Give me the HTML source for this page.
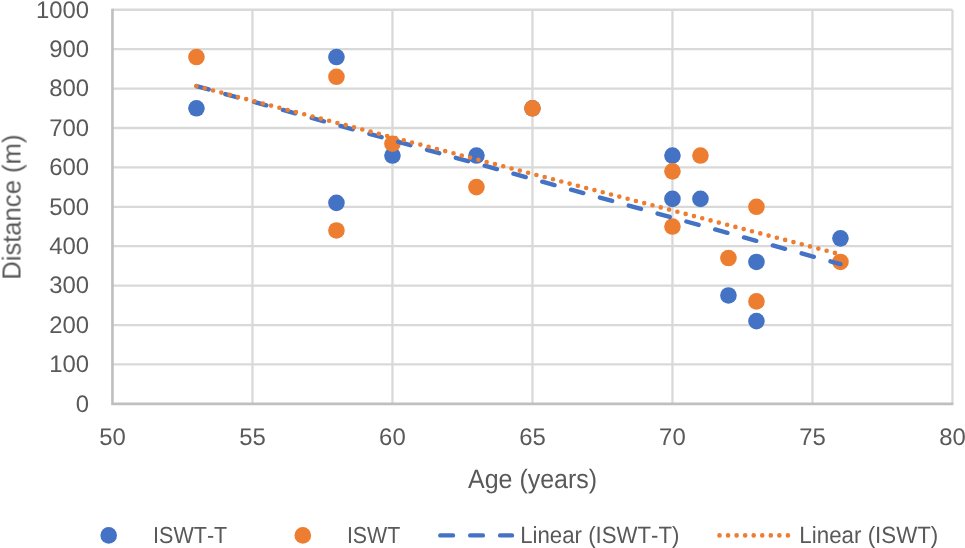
<!DOCTYPE html><html><head><meta charset="utf-8"><style>html,body{margin:0;padding:0;background:#fff;overflow:hidden}svg{display:block}text{font-family:"Liberation Sans",sans-serif;fill:#595959;font-kerning:none;text-rendering:geometricPrecision}</style></head><body>
<svg width="965" height="548" viewBox="0 0 965 548">
<rect width="965" height="548" fill="#fff"/>
<path d="M112.45 364.44H952.45M112.45 325.03H952.45M112.45 285.62H952.45M112.45 246.21H952.45M112.45 206.81H952.45M112.45 167.40H952.45M112.45 127.99H952.45M112.45 88.58H952.45M112.45 49.17H952.45M112.45 9.76H952.45M252.45 403.85V9.76M392.45 403.85V9.76M532.45 403.85V9.76M672.45 403.85V9.76M812.45 403.85V9.76M952.45 403.85V9.76" stroke="#d9d9d9" stroke-width="2.3" fill="none"/>
<path d="M112.45 8.76V403.85H953.45" stroke="#bfbfbf" stroke-width="2.6" fill="none"/>
<circle cx="196.45" cy="108.28" r="8.3" fill="#4472c4"/>
<circle cx="336.45" cy="57.05" r="8.3" fill="#4472c4"/>
<circle cx="336.45" cy="202.86" r="8.3" fill="#4472c4"/>
<circle cx="392.45" cy="155.57" r="8.3" fill="#4472c4"/>
<circle cx="476.45" cy="155.57" r="8.3" fill="#4472c4"/>
<circle cx="532.45" cy="108.28" r="8.3" fill="#4472c4"/>
<circle cx="672.45" cy="155.57" r="8.3" fill="#4472c4"/>
<circle cx="672.45" cy="198.92" r="8.3" fill="#4472c4"/>
<circle cx="700.45" cy="198.92" r="8.3" fill="#4472c4"/>
<circle cx="728.45" cy="295.48" r="8.3" fill="#4472c4"/>
<circle cx="756.45" cy="261.98" r="8.3" fill="#4472c4"/>
<circle cx="756.45" cy="321.09" r="8.3" fill="#4472c4"/>
<circle cx="840.45" cy="238.33" r="8.3" fill="#4472c4"/>
<circle cx="196.45" cy="57.05" r="8.3" fill="#ed7d31"/>
<circle cx="336.45" cy="76.76" r="8.3" fill="#ed7d31"/>
<circle cx="336.45" cy="230.45" r="8.3" fill="#ed7d31"/>
<circle cx="392.45" cy="143.75" r="8.3" fill="#ed7d31"/>
<circle cx="476.45" cy="187.10" r="8.3" fill="#ed7d31"/>
<circle cx="532.45" cy="108.28" r="8.3" fill="#ed7d31"/>
<circle cx="672.45" cy="171.34" r="8.3" fill="#ed7d31"/>
<circle cx="672.45" cy="226.51" r="8.3" fill="#ed7d31"/>
<circle cx="700.45" cy="155.57" r="8.3" fill="#ed7d31"/>
<circle cx="728.45" cy="258.04" r="8.3" fill="#ed7d31"/>
<circle cx="756.45" cy="206.81" r="8.3" fill="#ed7d31"/>
<circle cx="756.45" cy="301.39" r="8.3" fill="#ed7d31"/>
<circle cx="840.45" cy="261.98" r="8.3" fill="#ed7d31"/>
<path d="M196.45 86.05L840.45 264.10" stroke="#4472c4" stroke-width="4.4" stroke-linecap="round" stroke-dasharray="12.7 17.2" fill="none"/>
<path d="M196.45 86.10L840.45 254.37" stroke="#ed7d31" stroke-width="4.6" stroke-linecap="round" stroke-dasharray="0 8.57" fill="none"/>
<circle cx="108.7" cy="535.4" r="8.3" fill="#4472c4"/>
<circle cx="302.8" cy="535.4" r="8.3" fill="#ed7d31"/>
<path d="M440.3 535.4H512" stroke="#4472c4" stroke-width="4.4" stroke-linecap="round" stroke-dasharray="12.7 17.2" fill="none"/>
<path d="M719.5 535.4H790" stroke="#ed7d31" stroke-width="4.6" stroke-linecap="round" stroke-dasharray="0 8.55" fill="none"/>
<g opacity="0.999"><text x="75.842" y="411.677" font-size="23.9">0</text>
<text x="49.257" y="372.268" font-size="23.9">100</text>
<text x="49.257" y="332.859" font-size="23.9">200</text>
<text x="49.257" y="293.450" font-size="23.9">300</text>
<text x="49.257" y="254.041" font-size="23.9">400</text>
<text x="49.257" y="214.632" font-size="23.9">500</text>
<text x="49.257" y="175.223" font-size="23.9">600</text>
<text x="49.257" y="135.814" font-size="23.9">700</text>
<text x="49.257" y="96.405" font-size="23.9">800</text>
<text x="49.257" y="56.996" font-size="23.9">900</text>
<text x="35.965" y="17.587" font-size="23.9">1000</text>
<text x="99.246" y="445.077" font-size="23.9">50</text>
<text x="239.281" y="444.955" font-size="23.9">55</text>
<text x="379.118" y="445.077" font-size="23.9">60</text>
<text x="519.153" y="445.077" font-size="23.9">65</text>
<text x="659.112" y="445.077" font-size="23.9">70</text>
<text x="799.147" y="444.955" font-size="23.9">75</text>
<text x="939.205" y="445.077" font-size="23.9">80</text>
<text transform="translate(468.051 487.800) scale(0.9391 1)" font-size="26.599">Age (years)</text>
<text transform="translate(20.500 279.703) rotate(-90) scale(0.9853 1)" font-size="26.017">Distance (m)</text>
<text transform="translate(153.115 542.750) scale(0.9309 1)" font-size="23.110">ISWT-T</text>
<text transform="translate(346.930 542.750) scale(0.9237 1)" font-size="23.110">ISWT</text>
<text transform="translate(520.176 542.900) scale(0.9446 1)" font-size="23.547">Linear (ISWT-T)</text>
<text transform="translate(799.368 542.900) scale(0.9487 1)" font-size="23.547">Linear (ISWT)</text></g></svg></body></html>
